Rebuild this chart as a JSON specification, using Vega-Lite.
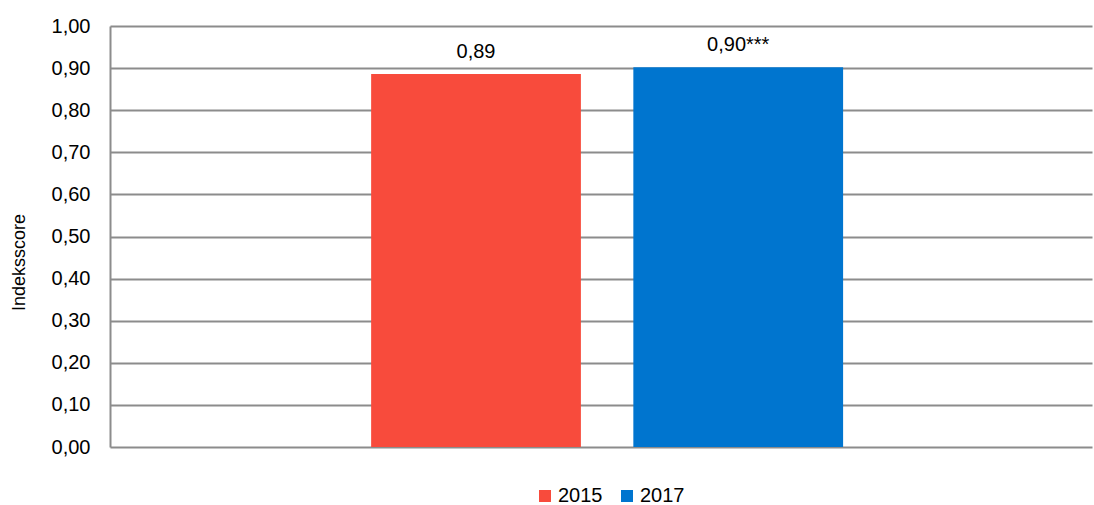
{
  "$schema": "https://vega.github.io/schema/vega-lite/v6.json",
  "autosize": {"type": "none"},
  "width": 982,
  "height": 421,
  "padding": {"left": 110, "top": 26, "right": 2, "bottom": 58},
  "config": {
    "locale": {"number": {"decimal": ",", "thousands": ".", "grouping": [3], "currency": ["", " €"]}},
    "font": "Liberation Sans",
    "view": {"stroke": null}
  },
  "data": {
    "values": [
      {"year": "2015", "score": 0.886, "label": "0,89"},
      {"year": "2017", "score": 0.902, "label": "0,90***"}
    ]
  },
  "encoding": {
    "x": {
      "field": "year",
      "type": "nominal",
      "scale": {"paddingInner": 0.2, "paddingOuter": 0.9726, "align": 0.512},
      "axis": null
    },
    "y": {
      "field": "score",
      "type": "quantitative",
      "scale": {"domain": [0, 1]},
      "axis": {
        "title": "Indeksscore",
        "values": [0, 0.1, 0.2, 0.3, 0.4, 0.5, 0.6, 0.7, 0.8, 0.9, 1.0],
        "format": ".2f",
        "labelFontSize": 20,
        "labelColor": "#000000",
        "labelPadding": 20,
        "ticks": false,
        "domainColor": "#8c8c8c",
        "domainWidth": 2,
        "gridColor": "#8c8c8c",
        "gridWidth": 2,
        "titleFontSize": 18,
        "titleFontWeight": "normal",
        "titleColor": "#000000",
        "titleX": -82,
        "titleY": 236,
        "titleAngle": -90,
        "titleBaseline": "bottom"
      }
    }
  },
  "layer": [
    {
      "mark": {"type": "bar"},
      "encoding": {
        "color": {
          "field": "year",
          "type": "nominal",
          "scale": {"domain": ["2015", "2017"], "range": ["#f84b3c", "#0075cf"]},
          "legend": {
            "title": null,
            "orient": "none",
            "legendX": 425,
            "legendY": 460,
            "direction": "horizontal",
            "symbolType": "square",
            "symbolSize": 144,
            "symbolStrokeWidth": 0,
            "labelFontSize": 20,
            "labelColor": "#000000",
            "labelOffset": 3,
            "columnPadding": 14
          }
        }
      }
    },
    {
      "mark": {"type": "text", "dy": -16, "fontSize": 20, "color": "#000000", "baseline": "alphabetic"},
      "encoding": {"text": {"field": "label"}}
    }
  ]
}
